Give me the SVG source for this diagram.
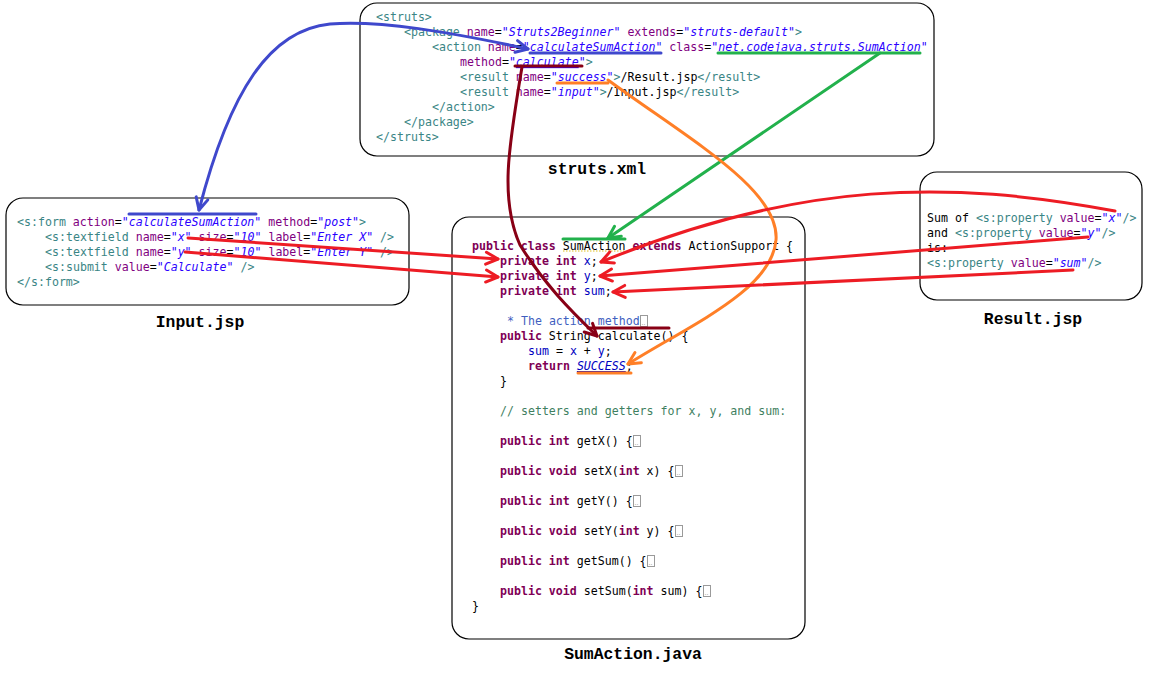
<svg xmlns="http://www.w3.org/2000/svg" width="1155" height="676" viewBox="0 0 1155 676">
<style>
.box{fill:#fff;stroke:#000;stroke-width:1.2}
.c{font-family:"DejaVu Sans Mono","Liberation Mono",monospace;font-size:11.6px;fill:#000}
.t{fill:#3a8585}
.a{fill:#7f007f}
.v{fill:#2a00ff;font-style:italic}
.u{text-decoration:underline}
.k{fill:#7f0055;font-weight:bold}
.f{fill:#0000c0}
.jd{fill:#3f5fbf}
.cm{fill:#3f7f5f}
.lbl{font-family:"Liberation Mono","Courier New",monospace;font-weight:bold;font-size:16.4px;text-anchor:middle;fill:#000}
.fold{fill:#fff;stroke:#9a9a9a;stroke-width:1}
.fd{font-family:"DejaVu Sans",sans-serif;font-size:6px;fill:#777}
.ln{fill:none;stroke-width:3;stroke-linecap:round;stroke-linejoin:round}
.blue{stroke:#3f48cc}.green{stroke:#22b14c}.red{stroke:#ed1c24}.dred{stroke:#880015}.orange{stroke:#ff7f27}
</style>
<defs>
<marker id="mb" markerUnits="userSpaceOnUse" markerWidth="1" markerHeight="1" orient="auto-start-reverse" overflow="visible"><path d="M-12,-6 L0,0 L-12,6" fill="none" stroke="#3f48cc" stroke-width="3" stroke-linecap="round" stroke-linejoin="round"/></marker>
<marker id="mg" markerUnits="userSpaceOnUse" markerWidth="1" markerHeight="1" orient="auto" overflow="visible"><path d="M-12,-6 L0,0 L-12,6" fill="none" stroke="#22b14c" stroke-width="3" stroke-linecap="round" stroke-linejoin="round"/></marker>
<marker id="mr" markerUnits="userSpaceOnUse" markerWidth="1" markerHeight="1" orient="auto" overflow="visible"><path d="M-12,-6 L0,0 L-12,6" fill="none" stroke="#ed1c24" stroke-width="3" stroke-linecap="round" stroke-linejoin="round"/></marker>
<marker id="md" markerUnits="userSpaceOnUse" markerWidth="1" markerHeight="1" orient="auto" overflow="visible"><path d="M-12,-6 L0,0 L-12,6" fill="none" stroke="#880015" stroke-width="3" stroke-linecap="round" stroke-linejoin="round"/></marker>
<marker id="mo" markerUnits="userSpaceOnUse" markerWidth="1" markerHeight="1" orient="auto" overflow="visible"><path d="M-12,-6 L0,0 L-12,6" fill="none" stroke="#ff7f27" stroke-width="3" stroke-linecap="round" stroke-linejoin="round"/></marker>
</defs>
<rect width="1155" height="676" fill="#fff"/>

<g id="struts-xml">
<rect class="box" x="360" y="3" width="574" height="153" rx="17"/>
<text class="c" x="376" y="21"><tspan class="t">&lt;struts&gt;</tspan></text>
<text class="c" x="404" y="36"><tspan class="t">&lt;package </tspan><tspan class="a">name</tspan>=<tspan class="v">"Struts2Beginner"</tspan> <tspan class="a">extends</tspan>=<tspan class="v">"struts-default"</tspan><tspan class="t">&gt;</tspan></text>
<text class="c" x="432" y="51"><tspan class="t">&lt;action </tspan><tspan class="a">name</tspan>=<tspan class="v">"<tspan class="u">calculateSumAction</tspan>"</tspan> <tspan class="a">class</tspan>=<tspan class="v">"<tspan class="u">net.codejava.struts.SumAction</tspan>"</tspan></text>
<text class="c" x="460" y="66"><tspan class="a">method</tspan>=<tspan class="v">"<tspan class="u">calculate</tspan>"</tspan><tspan class="t">&gt;</tspan></text>
<text class="c" x="460" y="81"><tspan class="t">&lt;result </tspan><tspan class="a">name</tspan>=<tspan class="v">"<tspan class="u">success</tspan>"</tspan><tspan class="t">&gt;</tspan>/Result.jsp<tspan class="t">&lt;/result&gt;</tspan></text>
<text class="c" x="460" y="96"><tspan class="t">&lt;result </tspan><tspan class="a">name</tspan>=<tspan class="v">"input"</tspan><tspan class="t">&gt;</tspan>/Input.jsp<tspan class="t">&lt;/result&gt;</tspan></text>
<text class="c" x="432" y="111"><tspan class="t">&lt;/action&gt;</tspan></text>
<text class="c" x="404" y="126"><tspan class="t">&lt;/package&gt;</tspan></text>
<text class="c" x="376" y="141"><tspan class="t">&lt;/struts&gt;</tspan></text>
<text class="lbl" x="597" y="174">struts.xml</text>
</g>

<g id="input-jsp">
<rect class="box" x="6" y="198" width="403" height="107" rx="17"/>
<text class="c" x="17" y="226"><tspan class="t">&lt;s:form </tspan><tspan class="a">action</tspan>=<tspan class="v">"calculateSumAction"</tspan> <tspan class="a">method</tspan>=<tspan class="v">"post"</tspan><tspan class="t">&gt;</tspan></text>
<text class="c" x="45" y="241"><tspan class="t">&lt;s:textfield </tspan><tspan class="a">name</tspan>=<tspan class="v">"x"</tspan> <tspan class="a">size</tspan>=<tspan class="v">"10"</tspan> <tspan class="a">label</tspan>=<tspan class="v">"Enter X"</tspan> <tspan class="t">/&gt;</tspan></text>
<text class="c" x="45" y="256"><tspan class="t">&lt;s:textfield </tspan><tspan class="a">name</tspan>=<tspan class="v">"y"</tspan> <tspan class="a">size</tspan>=<tspan class="v">"10"</tspan> <tspan class="a">label</tspan>=<tspan class="v">"Enter Y"</tspan> <tspan class="t">/&gt;</tspan></text>
<text class="c" x="45" y="271"><tspan class="t">&lt;s:submit </tspan><tspan class="a">value</tspan>=<tspan class="v">"Calculate"</tspan> <tspan class="t">/&gt;</tspan></text>
<text class="c" x="17" y="286"><tspan class="t">&lt;/s:form&gt;</tspan></text>
<text class="lbl" x="200" y="327">Input.jsp</text>
</g>

<g id="sumaction-java">
<rect class="box" x="452" y="217" width="353" height="422" rx="17"/>
<path d="M563,251 H626" stroke="#e0c020" stroke-width="1" stroke-dasharray="1.5,1.5" fill="none"/>
<text class="c" x="472" y="250"><tspan class="k">public class</tspan> SumAction <tspan class="k">extends</tspan> ActionSupport {</text>
<text class="c" x="500" y="265"><tspan class="k">private int</tspan> <tspan class="f">x</tspan>;</text>
<text class="c" x="500" y="280"><tspan class="k">private int</tspan> <tspan class="f">y</tspan>;</text>
<text class="c" x="500" y="295"><tspan class="k">private int</tspan> <tspan class="f">sum</tspan>;</text>
<text class="c jd" x="507" y="325">* The action method</text>
<rect class="fold" x="640.5" y="315.5" width="7" height="11"/><text class="fd" x="641.5" y="325">..</text>
<text class="c" x="500" y="340"><tspan class="k">public</tspan> String calculate() {</text>
<text class="c" x="528" y="355"><tspan class="f">sum</tspan> = <tspan class="f">x</tspan> + <tspan class="f">y</tspan>;</text>
<text class="c" x="528" y="370"><tspan class="k">return</tspan> <tspan class="f u" font-style="italic">SUCCESS</tspan>;</text>
<text class="c" x="500" y="385">}</text>
<text class="c cm" x="500" y="415">// setters and getters for x, y, and sum:</text>
<text class="c" x="500" y="445"><tspan class="k">public int</tspan> getX() {</text>
<rect class="fold" x="633.5" y="435.5" width="7" height="11"/><text class="fd" x="634.5" y="445">..</text>
<text class="c" x="500" y="475"><tspan class="k">public void</tspan> setX(<tspan class="k">int</tspan> x) {</text>
<rect class="fold" x="675.5" y="465.5" width="7" height="11"/><text class="fd" x="676.5" y="475">..</text>
<text class="c" x="500" y="505"><tspan class="k">public int</tspan> getY() {</text>
<rect class="fold" x="633.5" y="495.5" width="7" height="11"/><text class="fd" x="634.5" y="505">..</text>
<text class="c" x="500" y="535"><tspan class="k">public void</tspan> setY(<tspan class="k">int</tspan> y) {</text>
<rect class="fold" x="675.5" y="525.5" width="7" height="11"/><text class="fd" x="676.5" y="535">..</text>
<text class="c" x="500" y="565"><tspan class="k">public int</tspan> getSum() {</text>
<rect class="fold" x="647.5" y="555.5" width="7" height="11"/><text class="fd" x="648.5" y="565">..</text>
<text class="c" x="500" y="595"><tspan class="k">public void</tspan> setSum(<tspan class="k">int</tspan> sum) {</text>
<rect class="fold" x="703.5" y="585.5" width="7" height="11"/><text class="fd" x="704.5" y="595">..</text>
<text class="c" x="472" y="610">}</text>
<text class="lbl" x="633" y="659">SumAction.java</text>
</g>

<g id="result-jsp">
<rect class="box" x="920" y="172" width="222" height="128" rx="17"/>
<text class="c" x="927" y="222">Sum of <tspan class="t">&lt;s:property </tspan><tspan class="a">value</tspan>=<tspan class="v">"x"</tspan><tspan class="t">/&gt;</tspan></text>
<text class="c" x="927" y="237">and <tspan class="t">&lt;s:property </tspan><tspan class="a">value</tspan>=<tspan class="v">"y"</tspan><tspan class="t">/&gt;</tspan></text>
<text class="c" x="927" y="252">is:</text>
<text class="c" x="927" y="267"><tspan class="t">&lt;s:property </tspan><tspan class="a">value</tspan>=<tspan class="v">"sum"</tspan><tspan class="t">/&gt;</tspan></text>
<text class="lbl" x="1033" y="324">Result.jsp</text>
</g>

<g id="highlights">
<path class="ln blue" d="M530,53 H661"/>
<path class="ln green" d="M718,53 H920"/>
<path class="ln dred" d="M515,66 H582"/>
<path class="ln orange" d="M557,83 H608"/>
<path class="ln blue" d="M129,214 H256"/>
<path class="ln green" d="M563,239 H625"/>
<path class="ln dred" d="M588,328 H669"/>
<path class="ln orange" d="M578,373 H631"/>
</g>

<g id="connectors">
<path class="ln blue" d="M199,210 C230,90 270,30 330,24 C380,20 450,32 528,49" marker-start="url(#mb)" marker-end="url(#mb)"/>
<path class="ln green" d="M880,53 L608,238" marker-end="url(#mg)"/>
<path class="ln dred" d="M522,67 C508,150 500,200 520,245 C545,285 570,310 597,336" marker-end="url(#md)"/>
<path class="ln orange" d="M608,80 C690,140 780,190 776,240 C772,290 690,325 628,364" marker-end="url(#mo)"/>
<path class="ln red" d="M188,238 L498,259" marker-end="url(#mr)"/>
<path class="ln red" d="M185,252 L498,277" marker-end="url(#mr)"/>
<path class="ln red" d="M1115,211 C950,180 800,180 601,262" marker-end="url(#mr)"/>
<path class="ln red" d="M1088,237 L600,276" marker-end="url(#mr)"/>
<path class="ln red" d="M1073,270 L613,292" marker-end="url(#mr)"/>
</g>
</svg>
